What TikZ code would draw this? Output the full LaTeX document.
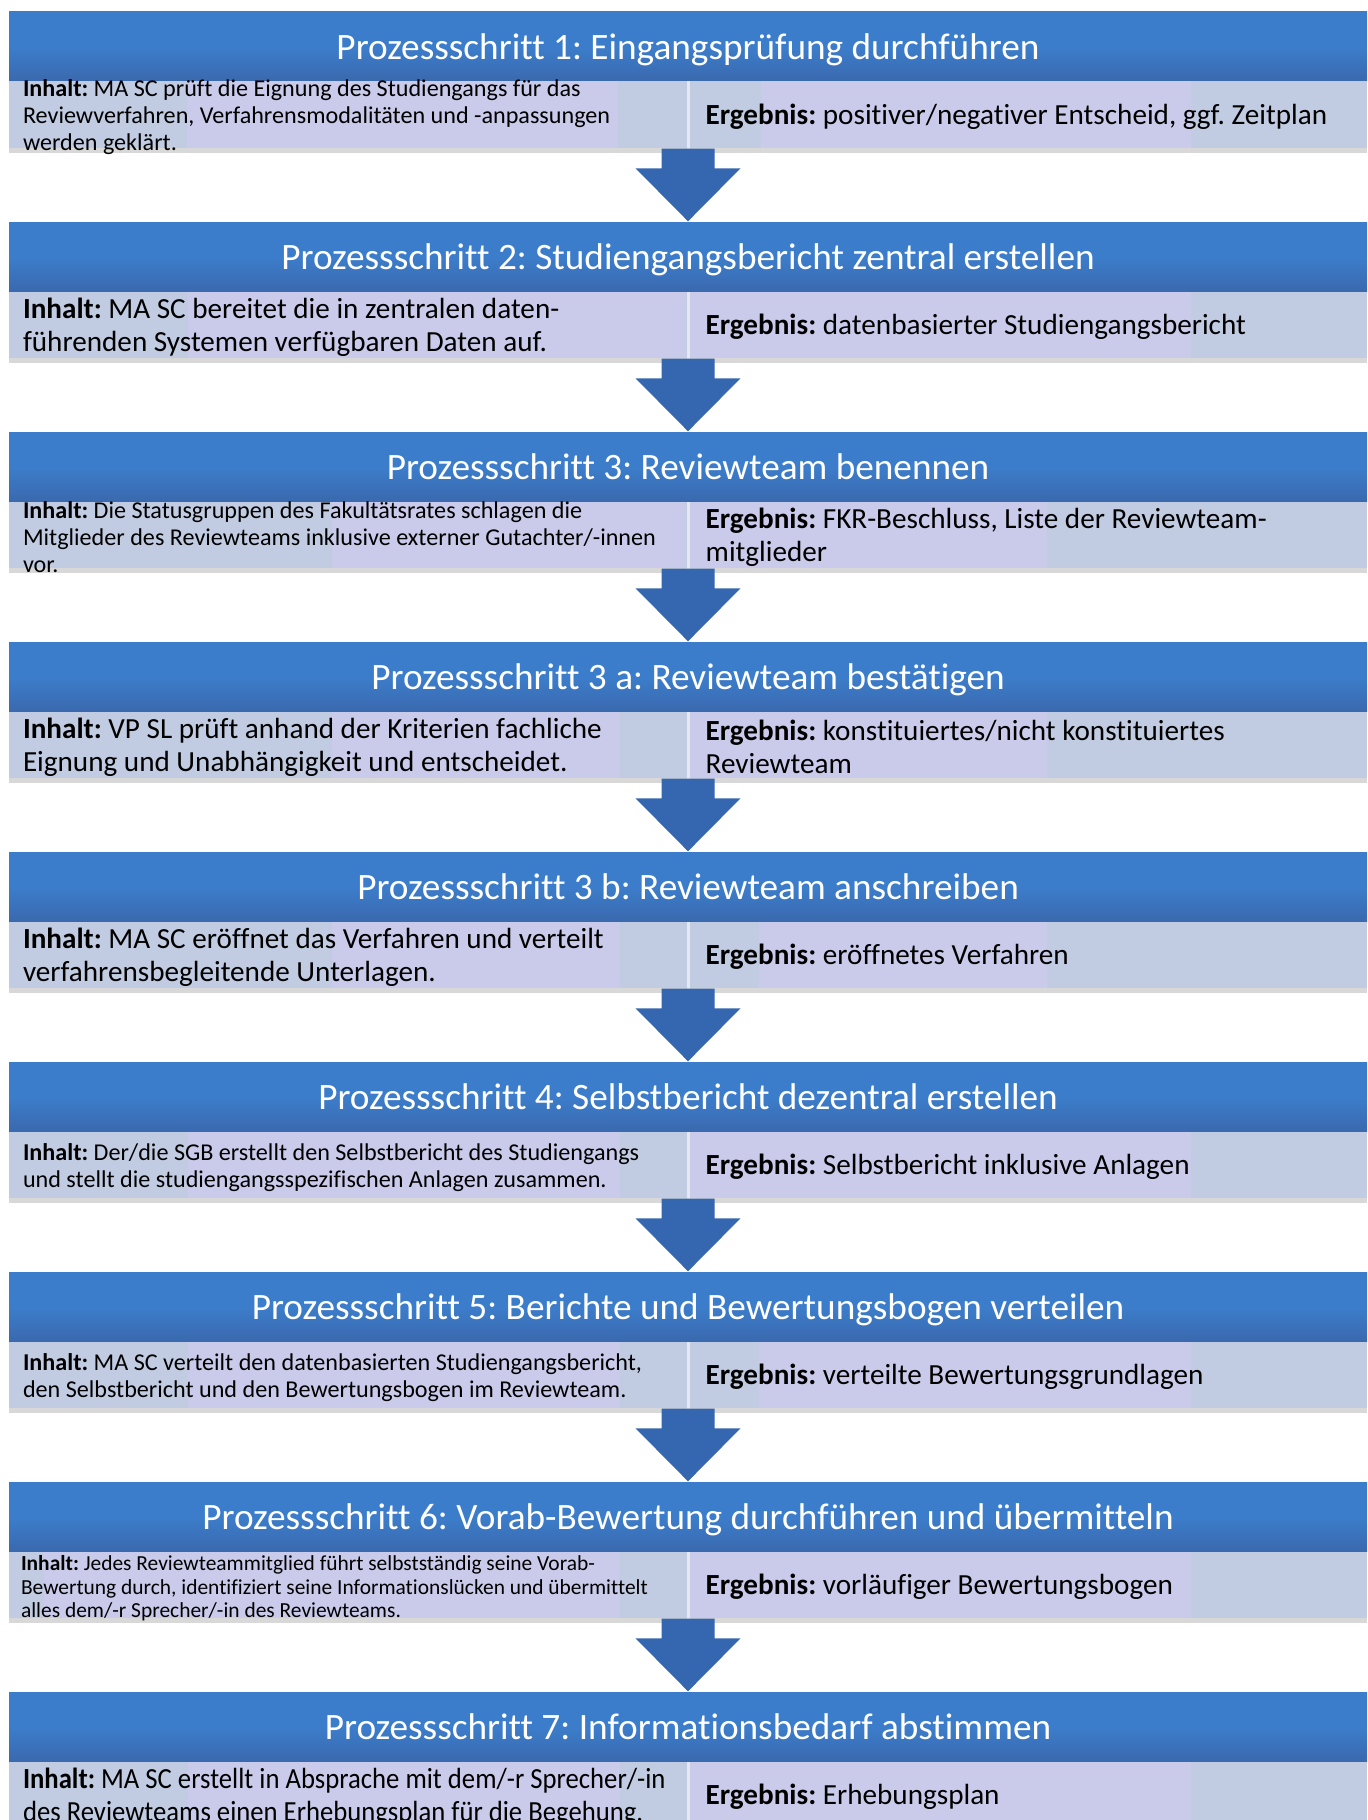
\documentclass[tikz,border=0pt]{standalone}
\usepackage{fontspec}
\setmainfont{Carlito}[Ligatures=NoCommon]
\newfontfamily\schmal{Carlito}[Ligatures=NoCommon, FakeStretch=0.915]
\usetikzlibrary{shadows}
\frenchspacing

\definecolor{kopfblau}{HTML}{3C7DCB}
\definecolor{kopfdunkel}{HTML}{3A69AE}
\definecolor{zeilenblau}{HTML}{C1CCE2}
\definecolor{lila}{HTML}{CACBEB}
\definecolor{pfeilblau}{HTML}{3566B0}

\newcommand{\schriftKopf}{\fontsize{10.6}{12.7}\selectfont}
\newcommand{\schriftGross}{\fontsize{8.3}{9.3}\selectfont}
\newcommand{\schriftKlein}{\fontsize{6.87}{7.7}\selectfont}
\newcommand{\schriftWinzig}{\fontsize{6.1}{6.7}\selectfont}

\begin{document}
\begin{tikzpicture}[x=0.1mm,y=-0.1mm,
    kopf/.style={minimum width=135.8mm, minimum height=6.9mm, inner sep=0pt, text=white, font=\schriftKopf,
      text depth=0pt, top color=kopfblau, bottom color=kopfdunkel, middle color=kopfblau},
    zeile/.style={minimum width=135.8mm, minimum height=6.7mm, inner sep=0pt, fill=zeilenblau,
      drop shadow={shadow xshift=0mm, shadow yshift=-0.5mm, opacity=.3}},
    inhalt/.style={anchor=west, align=left, inner sep=0pt, yshift=-0.3mm},
    ergebnis/.style={anchor=west, align=left, inner sep=0pt, font=\schriftGross, yshift=-0.25mm}]
    \fill[white] (0,0) rectangle (1368,1820); % background
    \useasboundingbox (0,0) rectangle (1368,1820);

    % rows
    \node[zeile] (r1) at (688,114.5) {};
    \node[zeile] (r2) at (688,324.5) {};
    \node[zeile] (r3) at (688,534.5) {};
    \node[zeile] (r3a) at (688,744.5) {};
    \node[zeile] (r3b) at (688,954.5) {};
    \node[zeile] (r4) at (688,1164.5) {};
    \node[zeile] (r5) at (688,1374.5) {};
    \node[zeile] (r6) at (688,1584.5) {};
    \node[zeile] (r7) at (688,1794.5) {};

    % lilac patches behind the texts
    \foreach \t/\a/\b/\c/\d in {12/187/618/761/1191, 222/188/686/689/1191, 432/332/686/689/1047,
        642/332/620/689/1047, 852/332/620/759/1047, 1062/188/620/689/1191,
        1272/188/620/759/1191, 1482/44/620/689/1191, 1692/188/620/689/1191}
    {
      \fill[lila] (\a,{\t+69}) rectangle (\b,{\t+136});
      \fill[lila] (\c,{\t+69}) rectangle (\d,{\t+136});
    }
    \foreach \z in {r1,r2,r3,r3a,r3b,r4,r5,r6,r7}
      \draw[white!55!zeilenblau, line width=0.3mm] (\z.north) -- (\z.south); % divider

    % headers
    \node[kopf] (h1) at (688,46.5) {Prozessschritt 1: Eingangsprüfung durchführen};
    \node[kopf] (h2) at (688,256.5) {Prozessschritt 2: Studiengangsbericht zentral erstellen};
    \node[kopf] (h3) at (688,466.5) {Prozessschritt 3: Reviewteam benennen};
    \node[kopf] (h3a) at (688,676.5) {Prozessschritt 3 a: Reviewteam bestätigen};
    \node[kopf] (h3b) at (688,886.5) {Prozessschritt 3 b: Reviewteam anschreiben};
    \node[kopf] (h4) at (688,1096.5) {Prozessschritt 4: Selbstbericht dezentral erstellen};
    \node[kopf] (h5) at (688,1306.5) {Prozessschritt 5: Berichte und Bewertungsbogen verteilen};
    \node[kopf] (h6) at (688,1516.5) {Prozessschritt 6: Vorab-Bewertung durchführen und übermitteln};
    \node[kopf] (h7) at (688,1726.5) {Prozessschritt 7: Informationsbedarf abstimmen};

    % Inhalt
    \node[inhalt, font=\schriftKlein] (i1) at ([xshift=1.4mm]r1.west) {\textbf{Inhalt:} MA SC prüft die Eignung des Studiengangs für das\\Reviewverfahren, Verfahrensmodalitäten und -anpassungen\\werden geklärt.};
    \node[inhalt, font=\schriftGross] (i2) at ([xshift=1.4mm]r2.west) {\textbf{Inhalt:} MA SC bereitet die in zentralen daten-\\führenden Systemen verfügbaren Daten auf.};
    \node[inhalt, font=\schriftKlein] (i3) at ([xshift=1.4mm]r3.west) {\textbf{Inhalt:} Die Statusgruppen des Fakultätsrates schlagen die\\Mitglieder des Reviewteams inklusive externer Gutachter/-innen\\vor.};
    \node[inhalt, font=\schriftGross] (i3a) at ([xshift=1.4mm]r3a.west) {\textbf{Inhalt:} VP SL prüft anhand der Kriterien fachliche\\Eignung und Unabhängigkeit und entscheidet.};
    \node[inhalt, font=\schriftGross] (i3b) at ([xshift=1.4mm]r3b.west) {\textbf{Inhalt:} MA SC eröffnet das Verfahren und verteilt\\verfahrensbegleitende Unterlagen.};
    \node[inhalt, font=\schriftKlein] (i4) at ([xshift=1.4mm]r4.west) {\textbf{Inhalt:} Der/die SGB erstellt den Selbstbericht des Studiengangs\\und stellt die studiengangsspezifischen Anlagen zusammen.};
    \node[inhalt, font=\schriftKlein] (i5) at ([xshift=1.4mm]r5.west) {\textbf{Inhalt:} MA SC verteilt den datenbasierten Studiengangsbericht,\\den Selbstbericht und den Bewertungsbogen im Reviewteam.};
    \node[inhalt, font=\schriftWinzig] (i6) at ([xshift=1.2mm,yshift=-0.1mm]r6.west) {\textbf{Inhalt:} Jedes Reviewteammitglied führt selbstständig seine Vorab-\\Bewertung durch, identifiziert seine Informationslücken und übermittelt\\alles dem/-r Sprecher/-in des Reviewteams.};
    \node[inhalt, font=\schmal\schriftGross] (i7) at ([xshift=1.4mm]r7.west) {\textbf{Inhalt:} MA SC erstellt in Absprache mit dem/-r Sprecher/-in\\des Reviewteams einen Erhebungsplan für die Begehung.};

    % Ergebnis
    \node[ergebnis] (e1) at ([xshift=1.7mm]r1.center) {\textbf{Ergebnis:} positiver/negativer Entscheid, ggf. Zeitplan};
    \node[ergebnis] (e2) at ([xshift=1.7mm]r2.center) {\textbf{Ergebnis:} datenbasierter Studiengangsbericht};
    \node[ergebnis] (e3) at ([xshift=1.7mm]r3.center) {\textbf{Ergebnis:} FKR-Beschluss, Liste der Reviewteam-\\mitglieder};
    \node[ergebnis] (e3a) at ([xshift=1.7mm]r3a.center) {\textbf{Ergebnis:} konstituiertes/nicht konstituiertes\\Reviewteam};
    \node[ergebnis] (e3b) at ([xshift=1.7mm]r3b.center) {\textbf{Ergebnis:} eröffnetes Verfahren};
    \node[ergebnis] (e4) at ([xshift=1.7mm]r4.center) {\textbf{Ergebnis:} Selbstbericht inklusive Anlagen};
    \node[ergebnis] (e5) at ([xshift=1.7mm]r5.center) {\textbf{Ergebnis:} verteilte Bewertungsgrundlagen};
    \node[ergebnis] (e6) at ([xshift=1.7mm]r6.center) {\textbf{Ergebnis:} vorläufiger Bewertungsbogen};
    \node[ergebnis] (e7) at ([xshift=1.7mm]r7.center) {\textbf{Ergebnis:} Erhebungsplan};

    % block arrows between the steps
    \foreach \a/\b in {r1/h2, r2/h3, r3/h3a, r3a/h3b, r3b/h4, r4/h5, r5/h6, r6/h7}
      \fill[pfeilblau] ([xshift=-2.65mm]\a.south) -- ([xshift=-2.65mm,yshift=5.3mm]\b.north)
        -- ([xshift=-5.25mm,yshift=5.3mm]\b.north) -- (\b.north) -- ([xshift=5.25mm,yshift=5.3mm]\b.north)
        -- ([xshift=2.65mm,yshift=5.3mm]\b.north) -- ([xshift=2.65mm]\a.south) -- cycle;
\end{tikzpicture}
\end{document}
